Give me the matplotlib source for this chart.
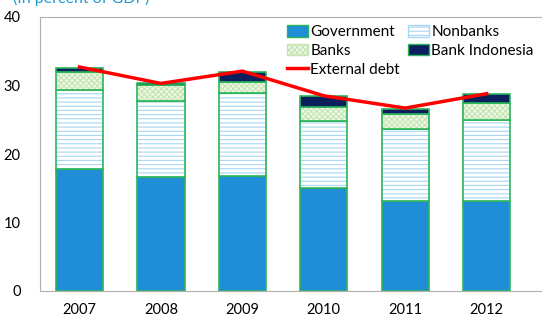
import matplotlib.pyplot as plt
import numpy as np
from matplotlib.patches import Patch
from matplotlib.lines import Line2D

plt.rcParams['font.family'] = ['Lato', 'DejaVu Sans']

years = ['2007', '2008', '2009', '2010', '2011', '2012']
government = [17.8, 16.6, 16.8, 15.0, 13.2, 13.2]
nonbanks = [11.6, 11.2, 12.1, 9.8, 10.4, 11.7]
banks = [2.5, 2.3, 1.6, 2.0, 2.2, 2.6]
bank_indonesia = [0.7, 0.3, 1.5, 1.7, 0.8, 1.2]
external_debt = [32.7, 30.3, 32.1, 28.5, 26.7, 28.8]

gov_col = '#208ed6'
bi_col = '#0b1f5e'
edge_col = '#2bb55a'
nb_hatch = '#a8d6f4'
bk_hatch = '#c4e4b0'

fig = plt.figure(figsize=(5.42, 3.18), dpi=100)
ax = fig.add_axes([40 / 542, 27 / 318, 502 / 542, 274 / 318])

x = np.arange(len(years))
w = 0.58
gov = np.array(government)
nb = np.array(nonbanks)
bk = np.array(banks)
bi = np.array(bank_indonesia)

ax.bar(x, gov, w, color=gov_col, edgecolor=edge_col, linewidth=1.2)

plt.rcParams['hatch.linewidth'] = 0.8
# hatched layers: draw hatch first, then green outline on top
ax.bar(x, nb, w, bottom=gov, facecolor='white', edgecolor=nb_hatch, hatch='----', linewidth=0)
ax.bar(x, nb, w, bottom=gov, fill=False, edgecolor=edge_col, linewidth=1.2)
ax.bar(x, bk, w, bottom=gov + nb, facecolor='#eef8e8', edgecolor=bk_hatch, hatch='xxxxxx', linewidth=0)
ax.bar(x, bk, w, bottom=gov + nb, fill=False, edgecolor=edge_col, linewidth=1.2)
ax.bar(x, bi, w, bottom=gov + nb + bk, color=bi_col, edgecolor=edge_col, linewidth=1.2)

ax.plot(x, external_debt, color='#ff0000', lw=2.5, zorder=5)

ax.set_xlim(-0.485, 5.68)
ax.set_ylim(0, 40)
ax.set_yticks([0, 10, 20, 30, 40])
ax.set_xticks(x)
ax.set_xticklabels(years)
ax.tick_params(axis='both', length=0, labelsize=10.5)
ax.tick_params(axis='x', pad=9)
ax.tick_params(axis='y', pad=14)
for s in ['left', 'bottom', 'top']:
    ax.spines[s].set_color('#b0b0b0')
ax.spines['right'].set_visible(False)

handles = [
    Patch(facecolor=gov_col, edgecolor=edge_col, label='Government'),
    Patch(facecolor='#eef8e8', edgecolor=bk_hatch, hatch='xxxxxx', label='Banks'),
    Line2D([0], [0], color='#ff0000', lw=2.5, label='External debt'),
    Patch(facecolor='white', edgecolor=nb_hatch, hatch='----', label='Nonbanks'),
    Patch(facecolor=bi_col, edgecolor=edge_col, label='Bank Indonesia'),
]
ax.legend(handles=handles, ncol=2, frameon=False, fontsize=11,
          loc='upper left', bbox_to_anchor=(0.479, 0.993),
          handlelength=1.4, handleheight=0.8, handletextpad=0.15,
          columnspacing=0.5, labelspacing=0.3, borderaxespad=0)

fig.text(13 / 542, 1.0 + 9 / 318, '(In percent of GDP)', color='#1f9ad6',
         fontsize=11.5, va='top', ha='left')

fig.savefig('out.png', dpi=100)
